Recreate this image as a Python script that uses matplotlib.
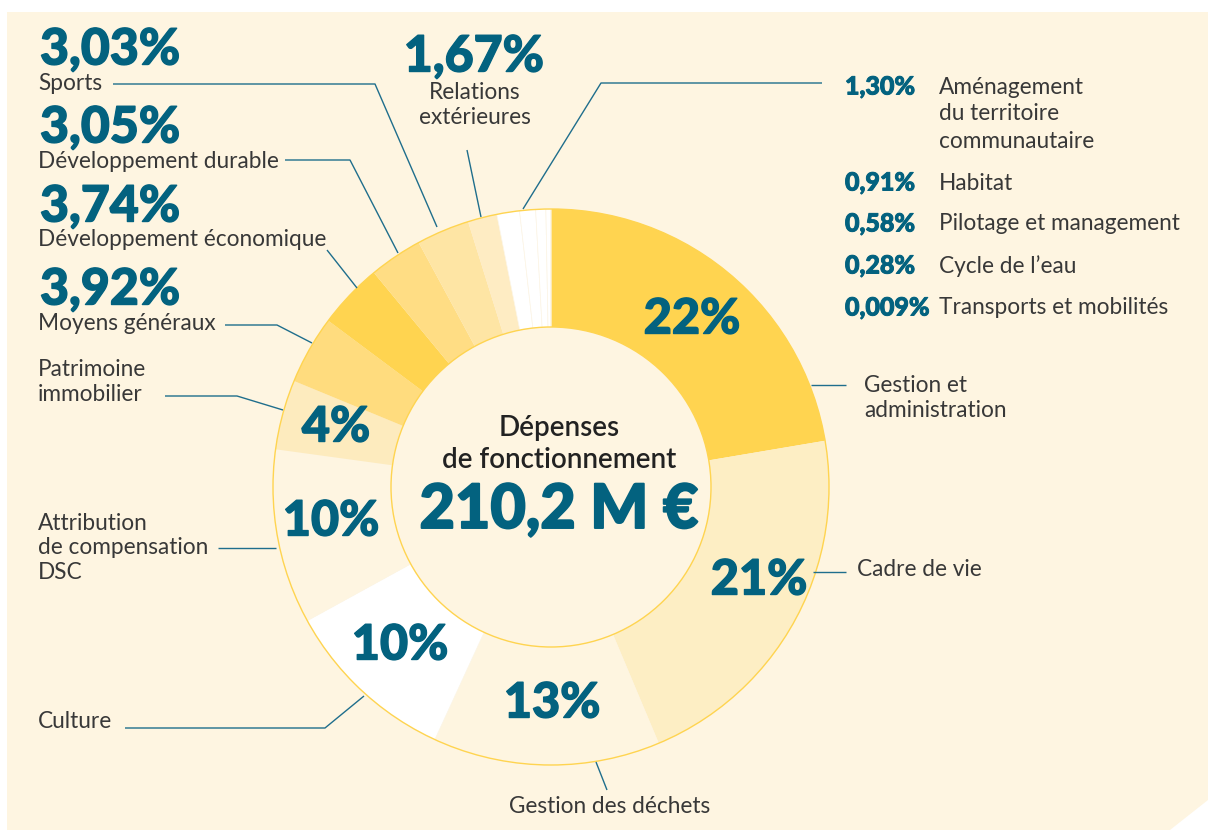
import matplotlib
matplotlib.use("Agg")
import matplotlib.pyplot as plt
import matplotlib.patheffects as pe
from matplotlib.patches import Circle, Polygon

plt.rcParams['font.family'] = ['Lato', 'DejaVu Sans']

# Budget shares (%), clockwise from 12 o'clock
postes = ['Gestion et administration', 'Cadre de vie', 'Gestion des déchets', 'Culture',
          'Attribution de compensation DSC', 'Patrimoine immobilier', 'Moyens généraux',
          'Développement économique', 'Développement durable', 'Sports',
          'Relations extérieures', 'Aménagement du territoire communautaire', 'Habitat',
          'Pilotage et management', 'Cycle de l’eau', 'Transports et mobilités']
parts = [22, 21, 13, 10, 10, 4, 3.92, 3.74, 3.05, 3.03, 1.67, 1.30, 0.91, 0.58, 0.28, 0.009]
couleurs = ['#FFD450', '#FDEEC4', '#FEF5E0', '#FFFFFF', '#FEF5E1', '#FDEBBE', '#FFDC7E',
            '#FFD450', '#FFDD84', '#FEE5A4', '#FEECC3', '#FFFFFF', '#FFFFFF', '#FFFFFF',
            '#FFFFFF', '#FFFFFF']
total = '210,2 M €'

W, H = 1208, 830
TEAL = '#03627F'
GREY = '#383838'
LINE = '#1F6E8C'
CREAM = '#FEF5E1'
LAB = 16.3


def Y(y):
    return H - y


def heavy(w):
    # thicken the bold face a little
    return [pe.withStroke(linewidth=w, foreground=TEAL)]


fig = plt.figure(figsize=(W / 100, H / 100), dpi=100, facecolor='white')
ax = fig.add_axes([0, 0, 1, 1])

# cream panel with clipped bottom-right corner
ax.add_patch(Polygon([(7, Y(12)), (W, Y(12)), (W, Y(800)), (1170, Y(830)), (7, Y(830))],
                     closed=True, facecolor=CREAM, edgecolor='none', zorder=0))

cx, cy, R, r_in = 551, Y(487), 278, 160
wedges, _ = ax.pie(parts, colors=couleurs, startangle=90, counterclock=False,
                   center=(cx, cy), radius=R, frame=True,
                   wedgeprops=dict(width=R - r_in, linewidth=0, edgecolor='none'))
for w, c in zip(wedges, couleurs):
    w.set_zorder(2)
    if c == '#FFFFFF':
        w.set_edgecolor('#FCF5E6')
        w.set_linewidth(0.5)
ax.set_xlim(0, W)
ax.set_ylim(0, H)
ax.set_aspect('equal')
ax.axis('off')

ax.add_patch(Circle((cx, cy), R, fill=False, edgecolor='#FFD450', lw=1.0, zorder=3))
ax.add_patch(Circle((cx, cy), r_in, facecolor=CREAM, edgecolor='#FFD450', lw=1.0, zorder=3))

# centre text
ax.text(559, Y(428), 'Dépenses', ha='center', va='center', fontsize=20,
        fontweight='semibold', color='#222222', zorder=4)
ax.text(559, Y(460), 'de fonctionnement', ha='center', va='center', fontsize=20,
        fontweight='semibold', color='#222222', zorder=4)
ax.text(559, Y(510), total, ha='center', va='center', fontsize=44,
        fontweight='black', color=TEAL, zorder=4, path_effects=heavy(1.4))

# percentages inside the ring
inner = [(0, 692, 319), (1, 759, 580), (2, 552, 703), (3, 400, 645), (4, 331, 521), (5, 336, 427)]
for i, x, y in inner:
    ax.text(x, Y(y), f'{parts[i]:g}%', ha='center', va='center', fontsize=35,
            fontweight='black', color=TEAL, zorder=4, path_effects=heavy(1.0))


def fmt(v):
    return f'{v:.2f}'.replace('.', ',') + '%'


# left column: big value + label
left = [(9, 50, 'Sports', 83), (8, 128, 'Développement durable', 161),
        (7, 207, 'Développement économique', 240), (6, 290, 'Moyens généraux', 324)]
for i, yv, lab, yl in left:
    ax.text(40, Y(yv), fmt(parts[i]), ha='left', va='center', fontsize=36,
            fontweight='black', color=TEAL, path_effects=heavy(1.0))
    ax.text(38, Y(yl), lab, ha='left', va='center', fontsize=LAB, color=GREY)

ax.text(38, Y(382), 'Patrimoine\nimmobilier', ha='left', va='center', fontsize=LAB,
        color=GREY, linespacing=1.22)
ax.text(38, Y(548), 'Attribution\nde compensation\nDSC', ha='left', va='center',
        fontsize=LAB, color=GREY, linespacing=1.22)
ax.text(38, Y(721), 'Culture', ha='left', va='center', fontsize=LAB, color=GREY)

# top: relations extérieures
ax.text(474, Y(57), fmt(parts[10]), ha='center', va='center', fontsize=36,
        fontweight='black', color=TEAL, path_effects=heavy(1.0))
ax.text(475, Y(105), 'Relations\nextérieures', ha='center', va='center', fontsize=LAB,
        color=GREY, linespacing=1.22)

# right: small items list
right = [(11, 87), (12, 183), (13, 224), (14, 266), (15, 308)]
right_lab = ['Aménagement', 'Habitat', 'Pilotage et management', 'Cycle de l’eau',
             'Transports et mobilités']
for (i, y), lab in zip(right, right_lab):
    v = parts[i]
    s = '0,009%' if v < 0.01 else fmt(v)
    ax.text(845, Y(y), s, ha='left', va='center', fontsize=18, fontweight='black',
            color=TEAL, path_effects=heavy(0.7))
    ax.text(939, Y(y), lab, ha='left', va='center', fontsize=LAB, color=GREY)
ax.text(939, Y(114), 'du territoire', ha='left', va='center', fontsize=LAB, color=GREY)
ax.text(939, Y(141), 'communautaire', ha='left', va='center', fontsize=LAB, color=GREY)

ax.text(864, Y(398), 'Gestion et\nadministration', ha='left', va='center', fontsize=LAB,
        color=GREY, linespacing=1.22)
ax.text(857, Y(569), 'Cadre de vie', ha='left', va='center', fontsize=LAB, color=GREY)
ax.text(610, Y(806), 'Gestion des déchets', ha='center', va='center', fontsize=LAB,
        color=GREY)

# leader lines
leaders = [
    [(113, 84), (375, 84), (437, 227)],
    [(285, 160), (350, 160), (398, 253)],
    [(327, 250), (357, 288)],
    [(225, 325), (277, 325), (312, 343)],
    [(165, 396), (237, 396), (283, 410)],
    [(218, 548), (276, 548)],
    [(125, 728), (325, 728), (364, 696)],
    [(467, 150), (481, 217)],
    [(523, 209), (601, 83), (822, 83)],
    [(811, 385), (846, 385)],
    [(813, 572), (846, 572)],
    [(596, 762), (607, 790)],
]
for pts in leaders:
    xs = [p[0] for p in pts]
    ys = [Y(p[1]) for p in pts]
    ax.plot(xs, ys, color=LINE, lw=1.0, zorder=5, solid_capstyle='butt')

fig.savefig('out.png', dpi=100, facecolor='white')
